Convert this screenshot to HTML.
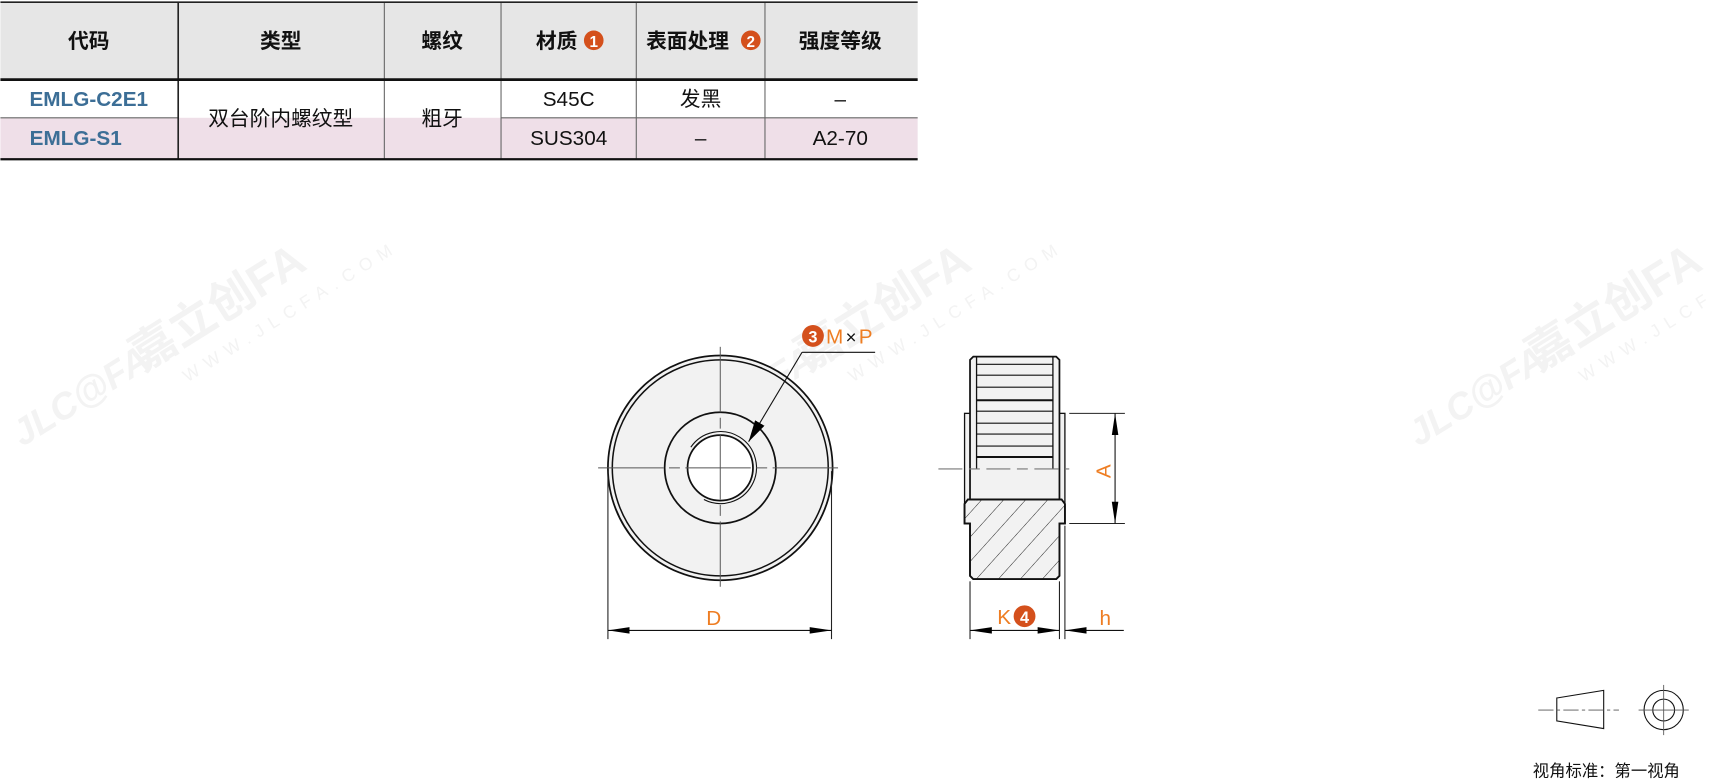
<!DOCTYPE html>
<html><head><meta charset="utf-8"><style>
html,body{margin:0;padding:0;background:#fff;}
svg{display:block;}
text{font-family:"Liberation Sans","Noto Sans CJK SC",sans-serif;}
</style></head><body>
<svg width="1711" height="782" viewBox="0 0 1568 717" xmlns="http://www.w3.org/2000/svg">
<defs>
<pattern id="hatch" patternUnits="userSpaceOnUse" width="15" height="15" patternTransform="rotate(42)">
<line x1="0" y1="0" x2="0" y2="15" stroke="#222" stroke-width="0.9"/>
</pattern>
<marker id="ar" viewBox="0 0 20 8" refX="20" refY="4" markerWidth="20" markerHeight="8" markerUnits="userSpaceOnUse" orient="auto-start-reverse"><path d="M0,1 L20,4 L0,7 z" fill="#000"/></marker>
<marker id="ar2" viewBox="0 0 20 10" refX="20" refY="5" markerWidth="20" markerHeight="10" markerUnits="userSpaceOnUse" orient="auto"><path d="M0,0 L20,5 L0,10 z" fill="#000"/></marker>
</defs>

<!-- watermarks -->
<g fill="#f3f3f3" font-weight="bold">
<g transform="translate(20,410) rotate(-32)"><text x="0" y="0" font-size="34" font-style="italic">JLC@FA</text><text x="130" y="0" font-size="42">嘉立创FA</text><text x="160" y="30" font-size="16" letter-spacing="7" font-weight="normal">WWW.JLCFA.COM</text></g>
<g transform="translate(630,410) rotate(-32)"><text x="0" y="0" font-size="34" font-style="italic">JLC@FA</text><text x="130" y="0" font-size="42">嘉立创FA</text><text x="160" y="30" font-size="16" letter-spacing="7" font-weight="normal">WWW.JLCFA.COM</text></g>
<g transform="translate(1300,410) rotate(-32)"><text x="0" y="0" font-size="34" font-style="italic">JLC@FA</text><text x="130" y="0" font-size="42">嘉立创FA</text><text x="160" y="30" font-size="16" letter-spacing="7" font-weight="normal">WWW.JLCFA.COM</text></g>
</g>

<!-- table -->
<rect x="0" y="2" width="841" height="71" fill="#e6e6e6"/>
<rect x="0" y="108" width="841" height="38" fill="#efdfe8"/>
<g stroke="#666" stroke-width="1">
<line x1="352" y1="2" x2="352" y2="146"/><line x1="459" y1="2" x2="459" y2="146"/>
<line x1="583" y1="2" x2="583" y2="146"/><line x1="701" y1="2" x2="701" y2="146"/>
<line x1="0" y1="108" x2="163" y2="108"/><line x1="459" y1="108" x2="841" y2="108"/>
</g>
<line x1="163" y1="2" x2="163" y2="146" stroke="#222" stroke-width="1.5"/>
<line x1="0" y1="2" x2="841" y2="2" stroke="#222" stroke-width="1.5"/>
<line x1="0" y1="73" x2="841" y2="73" stroke="#111" stroke-width="2.5"/>
<line x1="0" y1="146" x2="841" y2="146" stroke="#111" stroke-width="2"/>
<g font-size="19" text-anchor="middle" fill="#111" font-weight="bold">
<text x="81" y="44">代码</text><text x="257" y="44">类型</text><text x="405" y="44">螺纹</text>
<text x="510" y="44">材质</text><text x="630" y="44">表面处理</text><text x="770" y="44">强度等级</text>
</g>
<circle cx="544" cy="37" r="9" fill="#d4501c"/><text x="544" y="43" font-size="14" font-weight="bold" fill="#fff" text-anchor="middle">1</text>
<circle cx="688" cy="37" r="9" fill="#d4501c"/><text x="688" y="43" font-size="14" font-weight="bold" fill="#fff" text-anchor="middle">2</text>
<g font-size="19" text-anchor="middle" fill="#3c6e96" font-weight="bold">
<text x="81" y="97">EMLG-C2E1</text><text x="69" y="133">EMLG-S1</text></g>
<g font-size="19" text-anchor="middle" fill="#111">
<text x="257" y="115">双台阶内螺纹型</text><text x="405" y="115">粗牙</text>
<text x="521" y="97">S45C</text><text x="642" y="97">发黑</text><text x="770" y="97">–</text>
<text x="521" y="133">SUS304</text><text x="642" y="133">–</text><text x="770" y="133">A2-70</text>
</g>

<!-- front view -->
<circle cx="660" cy="429" r="103" fill="#f2f2f2" stroke="#111" stroke-width="1.6"/>
<circle cx="660" cy="429" r="99" fill="none" stroke="#111" stroke-width="1.4"/>
<circle cx="660" cy="429" r="51" fill="none" stroke="#111" stroke-width="1.6"/>
<circle cx="660" cy="429" r="30" fill="#fff" stroke="#111" stroke-width="1.6"/>
<path d="M 645 458 A 33 33 0 1 0 633 410" fill="none" stroke="#111" stroke-width="1"/>
<g stroke="#555" stroke-width="0.9">
<line x1="548" y1="429" x2="772" y2="429" stroke-dasharray="60,5,10,5"/>
<line x1="660" y1="318" x2="660" y2="542" stroke-dasharray="60,5,10,5"/>
</g>
<polyline points="735,323 802,323" stroke="#111" stroke-width="1" fill="none"/>
<line x1="735" y1="323" x2="686" y2="405" stroke="#111" stroke-width="1" marker-end="url(#ar2)"/>
<circle cx="745" cy="308" r="10" fill="#d4501c"/><text x="745" y="314" font-size="15" font-weight="bold" fill="#fff" text-anchor="middle">3</text>
<text x="757" y="315" font-size="19" fill="#ee7d22">M</text><text x="775" y="315" font-size="17" fill="#111">×</text><text x="787" y="315" font-size="19" fill="#ee7d22">P</text>
<g stroke="#222" stroke-width="1"><line x1="557" y1="432" x2="557" y2="586"/><line x1="762" y1="432" x2="762" y2="586"/></g>
<line x1="557" y1="578" x2="762" y2="578" stroke="#111" stroke-width="1" marker-start="url(#ar)" marker-end="url(#ar)"/>
<text x="654" y="573" font-size="19" fill="#ee7d22" text-anchor="middle">D</text>

<!-- side view -->
<rect x="884" y="379" width="92" height="101" fill="#f2f2f2" stroke="#111" stroke-width="1.2"/>
<path d="M 892 327 L 968 327 L 971 330 L 971 458 L 889 458 L 889 330 Z" fill="#f2f2f2" stroke="#111" stroke-width="1.6"/>
<path d="M 887 458 L 973 458 L 976 462 L 976 480 L 971 480 L 971 528 L 968 531 L 892 531 L 889 528 L 889 480 L 884 480 L 884 462 Z" fill="#f2f2f2" stroke="#111" stroke-width="1.6"/>
<path d="M 887 458 L 973 458 L 976 462 L 976 480 L 971 480 L 971 528 L 968 531 L 892 531 L 889 528 L 889 480 L 884 480 L 884 462 Z" fill="url(#hatch)" stroke="#111" stroke-width="1.6"/>
<g stroke="#111">
<line x1="895" y1="327" x2="895" y2="430" stroke-width="1.2"/><line x1="965" y1="327" x2="965" y2="430" stroke-width="1.2"/>
<line x1="895" y1="334" x2="965" y2="334" stroke-width="1"/>
<line x1="895" y1="344" x2="965" y2="344" stroke-width="1"/>
<line x1="895" y1="355" x2="965" y2="355" stroke-width="1"/>
<line x1="895" y1="367" x2="965" y2="367" stroke-width="1.8"/>
<line x1="895" y1="377" x2="965" y2="377" stroke-width="1"/>
<line x1="895" y1="388" x2="965" y2="388" stroke-width="1"/>
<line x1="895" y1="398" x2="965" y2="398" stroke-width="1"/>
<line x1="895" y1="409" x2="965" y2="409" stroke-width="1"/>
<line x1="895" y1="419" x2="965" y2="419" stroke-width="1.8"/>
</g>
<line x1="860" y1="430" x2="980" y2="430" stroke="#777" stroke-width="1" stroke-dasharray="22,6,10,6"/>
<g stroke="#222" stroke-width="1">
<line x1="980" y1="379" x2="1031" y2="379"/><line x1="980" y1="480" x2="1031" y2="480"/>
<line x1="889" y1="533" x2="889" y2="586"/><line x1="971" y1="533" x2="971" y2="586"/><line x1="976" y1="482" x2="976" y2="586"/>
</g>
<line x1="1022" y1="379" x2="1022" y2="480" stroke="#111" stroke-width="1" marker-start="url(#ar)" marker-end="url(#ar)"/>
<text transform="translate(1018,432) rotate(-90)" font-size="19" fill="#ee7d22" text-anchor="middle">A</text>
<line x1="889" y1="578" x2="971" y2="578" stroke="#111" stroke-width="1" marker-start="url(#ar)" marker-end="url(#ar)"/>
<line x1="1030" y1="578" x2="976" y2="578" stroke="#111" stroke-width="1" marker-end="url(#ar)"/>
<text x="914" y="572" font-size="19" fill="#ee7d22">K</text>
<circle cx="939" cy="565" r="10" fill="#d4501c"/><text x="939" y="571" font-size="15" font-weight="bold" fill="#fff" text-anchor="middle">4</text>
<text x="1013" y="573" font-size="19" fill="#ee7d22" text-anchor="middle">h</text>

<!-- projection symbol -->
<path d="M1427,640 L1470,633 L1470,668 L1427,661 Z" fill="none" stroke="#111" stroke-width="1"/>
<line x1="1410" y1="651" x2="1484" y2="651" stroke="#555" stroke-width="0.8" stroke-dasharray="14,3,3,3"/>
<circle cx="1525" cy="651" r="18" fill="none" stroke="#111" stroke-width="1"/>
<circle cx="1525" cy="651" r="10" fill="none" stroke="#111" stroke-width="1"/>
<line x1="1502" y1="651" x2="1548" y2="651" stroke="#555" stroke-width="0.8"/>
<line x1="1525" y1="628" x2="1525" y2="674" stroke="#555" stroke-width="0.8"/>
<text x="1405" y="712" font-size="15" fill="#111">视角标准：第一视角</text>
</svg>
</body></html>
